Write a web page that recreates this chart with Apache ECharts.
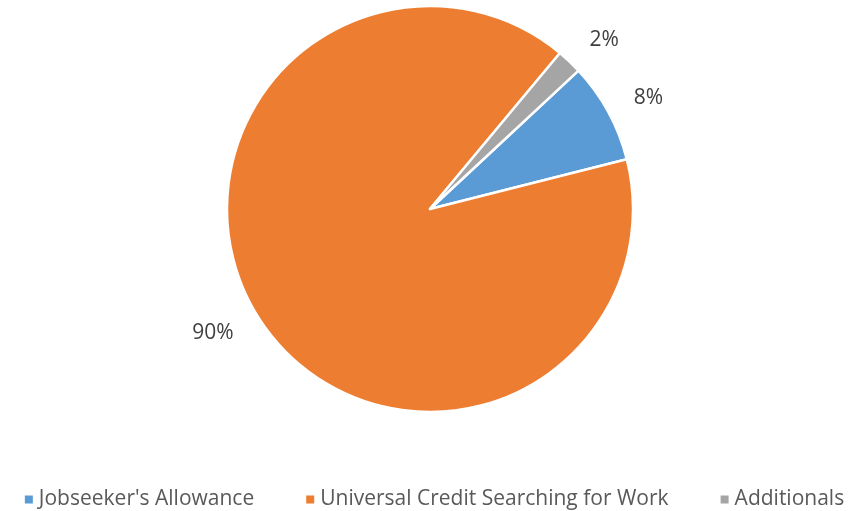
<!DOCTYPE html>
<html>
<head>
<meta charset="utf-8">
<script src="https://cdn.jsdelivr.net/npm/echarts@6/dist/echarts.min.js"></script>
<style>
  html, body { margin: 0; padding: 0; background: #ffffff; }
  #chart { width: 867px; height: 511px; }
</style>
</head>
<body>
<div id="chart"></div>
<script>
// Share of claimants by benefit type (percent)
const categories = ["Jobseeker's Allowance", "Universal Credit Searching for Work", "Additionals"];
const shares = [8, 90, 2];
const colors = ['#5B9BD5', '#ED7D31', '#A5A5A5'];

const FONT = 'Open Sans';

const chart = echarts.init(document.getElementById('chart'), null, { renderer: 'canvas' });

chart.setOption({
  animation: false,
  backgroundColor: '#ffffff',
  color: colors,
  legend: {
    top: 489,
    left: 'center',
    padding: 0,
    icon: 'rect',
    itemWidth: 10,
    itemHeight: 10,
    itemGap: 50,
    textStyle: { fontFamily: FONT, fontSize: 21, color: '#595959' },
    data: categories
  },
  series: [{
    type: 'pie',
    center: [430, 209],
    radius: 203,
    startAngle: 43,
    clockwise: true,
    avoidLabelOverlap: false,
    itemStyle: { borderColor: '#ffffff', borderWidth: 2.5 },
    label: {
      show: true,
      position: 'outside',
      formatter: p => p.value + '%',
      fontFamily: FONT,
      fontSize: 21,
      color: '#404040',
      distanceToLabelLine: 0
    },
    labelLine: { show: false, length: 29, length2: 0 },
    emphasis: { disabled: true },
    data: categories.map((name, i) => ({ name, value: shares[i] }))
  }]
});
</script>
</body>
</html>
